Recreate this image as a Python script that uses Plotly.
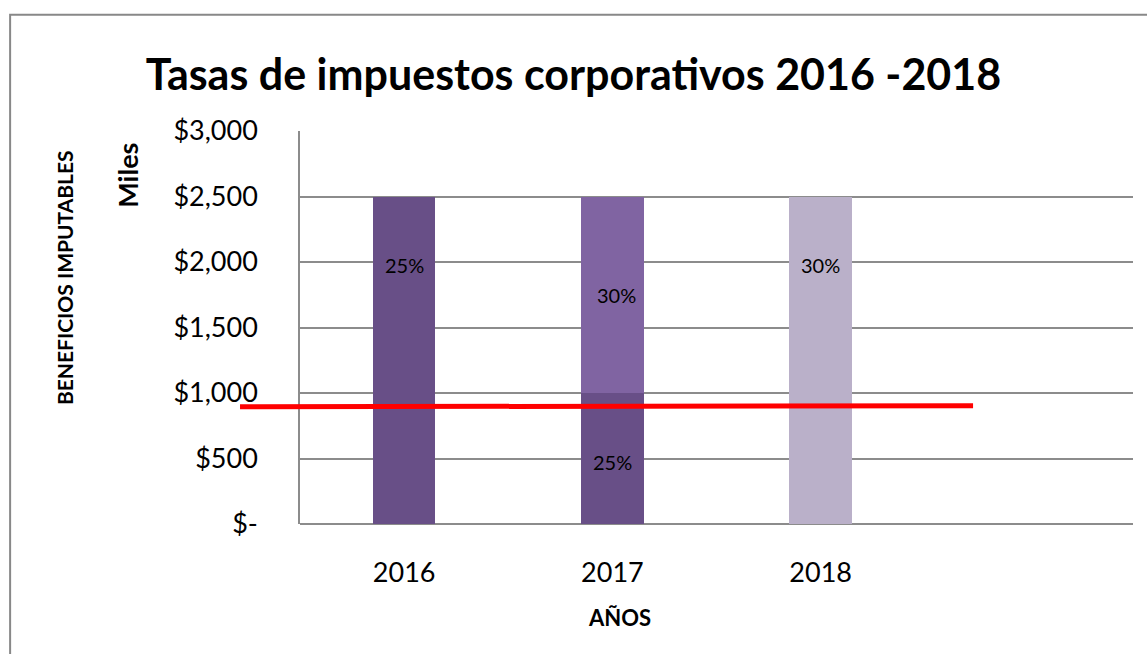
import plotly.graph_objects as go

# datos (miles de $)
anios = ["2016", "2017", "2018", ""]
tramo_base = [2500, 1000, 2500]      # segmento inferior de cada barra
tramo_extra = [0, 1500, 0]           # segmento superior (solo 2017)
etiq_base = ["25%", "25%", "30%"]
etiq_extra = ["", "30%", ""]
umbral = [895, 903]                  # linea roja (inicio, fin)

y_ticks = [0, 500, 1000, 1500, 2000, 2500, 3000]
y_ticktext = ["$-", "$500", "$1,000", "$1,500", "$2,000", "$2,500", "$3,000"]

col_base = ["#684F87", "#684F87", "#BAB0C9"]
col_extra = ["#8064A2", "#8064A2", "#8064A2"]

fig = go.Figure()
fig.add_trace(go.Bar(x=anios[:3], y=tramo_base, marker=dict(color=col_base, line_width=0),
                     width=0.3, hoverinfo="skip"))
fig.add_trace(go.Bar(x=anios[:3], y=tramo_extra, marker=dict(color=col_extra, line_width=0),
                     width=0.3, hoverinfo="skip"))

# etiquetas de porcentaje (posicion como en el original)
alto_etq = [1980, 470, 1980]
fnt_etq = dict(family="Lato", size=20, color="black")
for i in range(3):
    fig.add_annotation(x=i, y=alto_etq[i], text=etiq_base[i], showarrow=False, font=fnt_etq)
    if etiq_extra[i]:
        fig.add_annotation(x=i + 0.02, y=tramo_base[i] + tramo_extra[i] / 2, text=etiq_extra[i],
                           showarrow=False, font=fnt_etq)

fig.add_shape(type="line", xref="paper", yref="y", x0=-0.072, x1=0.808,
              y0=umbral[0], y1=umbral[1], line=dict(color="#FF0000", width=5))

# marco exterior
fig.add_shape(type="rect", xref="paper", yref="paper", x0=-0.348, x1=1.1, y0=-0.5, y1=1.296,
              line=dict(color="#888888", width=2), layer="below")

fig.add_annotation(xref="paper", yref="paper", x=-0.282, y=0.626, text="<b>BENEFICIOS IMPUTABLES</b>",
                   xanchor="center", yanchor="middle", textangle=-90, showarrow=False,
                   font=dict(family="Lato", size=21, color="black"))
fig.add_annotation(xref="paper", yref="paper", x=-0.208, y=0.888, text="<b>Miles</b>",
                   xanchor="center", yanchor="middle", textangle=-90, showarrow=False,
                   font=dict(family="Lato", size=27, color="black"))
fig.add_annotation(xref="paper", yref="paper", x=0.384, y=-0.239, text="<b>AÑOS</b>",
                   xanchor="center", yanchor="middle", showarrow=False,
                   font=dict(family="Lato", size=22, color="black"))

fig.update_layout(
    width=1147, height=654,
    margin=dict(l=300, r=14, t=131, b=130),
    paper_bgcolor="white", plot_bgcolor="white",
    barmode="stack", showlegend=False,
    title=dict(text="<b>Tasas de impuestos corporativos 2016 -2018</b>", x=0.5, xanchor="center",
               y=0.885, yanchor="middle", font=dict(family="Lato", size=43, color="black")),
)
fig.update_xaxes(type="category", categoryorder="array", categoryarray=anios, range=[-0.5, 3.5],
                 tickvals=anios[:3], showgrid=False, showline=False, ticks="",
                 ticklabelstandoff=30, tickfont=dict(family="Lato", size=27, color="black"))
fig.update_yaxes(range=[0, 3000], tickvals=y_ticks, ticktext=y_ticktext, showgrid=True,
                 gridcolor="#8C8C8C", gridwidth=1.5, showline=True, linecolor="#8C8C8C", linewidth=1.5,
                 zeroline=True, zerolinecolor="#8C8C8C", zerolinewidth=1.5, ticks="",
                 ticklabelstandoff=35, tickfont=dict(family="Lato", size=27, color="black"))

fig.write_html("out.html", config={"displayModeBar": False},
               post_script="document.body.style.margin='0';")
